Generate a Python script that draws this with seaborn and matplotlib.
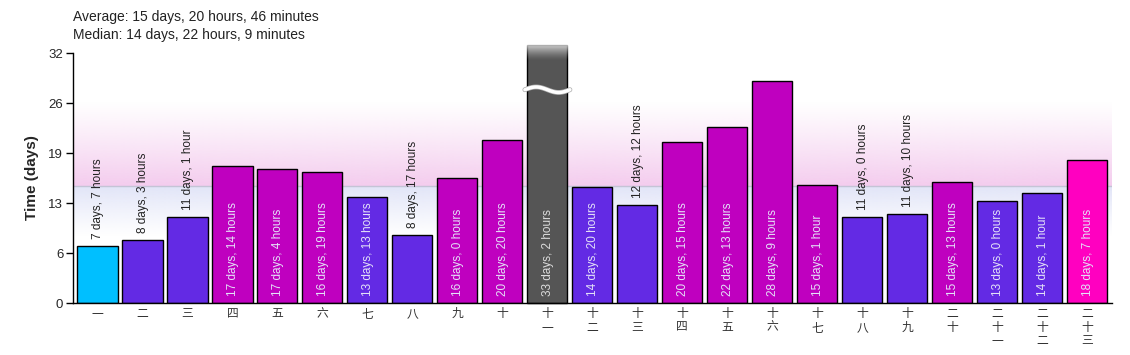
import numpy as np
import pandas as pd
import matplotlib
matplotlib.use("Agg")
import matplotlib.pyplot as plt
import matplotlib.patheffects as pe
import seaborn as sns

# data
periods = ["一", "二", "三", "四", "五", "六", "七", "八", "九", "十",
           "十\n一", "十\n二", "十\n三", "十\n四", "十\n五", "十\n六", "十\n七",
           "十\n八", "十\n九", "二\n十", "二\n十\n一", "二\n十\n二", "二\n十\n三"]
days = [7, 8, 11, 17, 17, 16, 13, 8, 16, 20, 33, 14, 12, 20, 22, 28, 15, 11, 11, 15, 13, 14, 18]
hours = [7, 3, 1, 14, 4, 19, 13, 17, 0, 20, 2, 20, 12, 15, 13, 9, 1, 0, 10, 13, 0, 1, 7]
bar_colors = ["#00bfff", "#632ae4", "#632ae4", "#bf00bf", "#bf00bf", "#bf00bf",
              "#632ae4", "#632ae4", "#bf00bf", "#bf00bf", "#555555", "#632ae4",
              "#632ae4", "#bf00bf", "#bf00bf", "#bf00bf", "#bf00bf", "#632ae4",
              "#632ae4", "#bf00bf", "#632ae4", "#632ae4", "#ff00c0"]
average_text = "Average: 15 days, 20 hours, 46 minutes"
median_text = "Median: 14 days, 22 hours, 9 minutes"
median_days = 14 + 22 / 24 + 9 / 1440
y_max = 32
ytick_vals = [0, 6.4, 12.8, 19.2, 25.6, 32]
broken_bar = 10

df = pd.DataFrame({"period": periods, "days": days, "hours": hours})
df["value"] = df["days"] + df["hours"] / 24
df["label"] = [f"{d} days, {h} hour" if h == 1 else f"{d} days, {h} hours"
               for d, h in zip(days, hours)]

sns.set_style("ticks")
plt.rcParams["font.family"] = ["Liberation Sans", "Noto Sans CJK SC", "DejaVu Sans"]

fig = plt.figure(figsize=(11.3, 3.55), dpi=100)
ax = fig.add_axes([73 / 1130, 1 - 303 / 355, (1112 - 73) / 1130, 250 / 355])

xlo, xhi = -0.545, 22.55

# background gradient around the median line
n = 400
ys = np.linspace(0, y_max, n)
img = np.ones((n, 2, 4))
pink = np.array([244, 204, 238]) / 255
lav = np.array([226, 229, 248]) / 255
for i, yv in enumerate(ys):
    if yv >= median_days:
        a = max(0.0, 1 - (yv - median_days) / (25.8 - median_days))
        img[i, :, :3] = pink
        img[i, :, 3] = a ** 1.1
    else:
        a = max(0.0, 1 - (median_days - yv) / (median_days - 8.5))
        img[i, :, :3] = lav
        img[i, :, 3] = a ** 1.1
ax.imshow(img, extent=[xlo, xhi, 0, y_max], origin="lower", aspect="auto", zorder=0)
ax.axhline(median_days, color="#c4c4d6", lw=1, zorder=1)

sns.barplot(data=df, x="period", y="value", hue="period", palette=bar_colors,
            legend=False, saturation=1, width=0.89, edgecolor="black",
            linewidth=1, ax=ax, zorder=2)

# the clipped bar goes past the top of the axis
for i, cont in enumerate(ax.containers):
    if i == broken_bar:
        for p in cont.patches:
            p.set_clip_on(False)

# fade the top of the clipped bar
fade = np.ones((60, 2, 4))
fade[:, :, 3] = (np.linspace(0, 0.85, 60) ** 1.5)[:, None]
bx = broken_bar
ax.imshow(fade, extent=[bx - 0.47, bx + 0.47, 31.0, df["value"][bx] + 0.05],
          origin="lower", aspect="auto", zorder=3, clip_on=False)
# break mark
wx = np.linspace(bx - 0.5, bx + 0.5, 60)
wy = 27.3 + 0.35 * np.sin((wx - bx) * 2 * np.pi + np.pi)
ax.plot(wx, wy, color="white", lw=2.5, zorder=4, clip_on=False,
        path_effects=[pe.Stroke(linewidth=3.5, foreground="#aaaaaa"), pe.Normal()])

# duration labels
for i, row in df.iterrows():
    v = row["value"]
    if v >= 13:
        col = "#dddddd" if i == broken_bar else "#e4e2f8"
        ax.annotate(row["label"], (i, 0), xytext=(0.5, 5), textcoords="offset points",
                    rotation=90, ha="left", va="center", rotation_mode="anchor",
                    fontsize=8.5, color=col, zorder=5)
    else:
        ax.annotate(row["label"], (i, v), xytext=(0.5, 5), textcoords="offset points",
                    rotation=90, ha="left", va="center", rotation_mode="anchor",
                    fontsize=8.5, color="#222222", zorder=5)

ax.set_xlim(xlo, xhi)
ax.set_ylim(0, y_max)
ax.set_yticks(ytick_vals)
ax.set_yticklabels([f"{round(t)}" for t in ytick_vals], fontsize=9.5)
ax.set_xticks(range(len(periods)))
ax.set_xticklabels(periods, fontsize=8.5, color="#333333", linespacing=1.05,
                   family=["Noto Sans CJK SC", "DejaVu Sans"], va="top")
ax.tick_params(axis="x", length=0, pad=3)
ax.tick_params(axis="y", length=5, width=1, color="black", pad=2)
ax.set_xlabel("")
ax.set_ylabel("Time (days)", fontsize=11, fontweight="bold", labelpad=7)
sns.despine(ax=ax)
for s in ["left", "bottom"]:
    ax.spines[s].set_color("black")
    ax.spines[s].set_linewidth(1)
ax.set_facecolor("white")

fig.text(73 / 1130, 1 - 17 / 355, average_text, fontsize=10, va="center", color="#222222")
fig.text(73 / 1130, 1 - 35 / 355, median_text, fontsize=10, va="center", color="#222222")

fig.savefig("out.png", dpi=100)
